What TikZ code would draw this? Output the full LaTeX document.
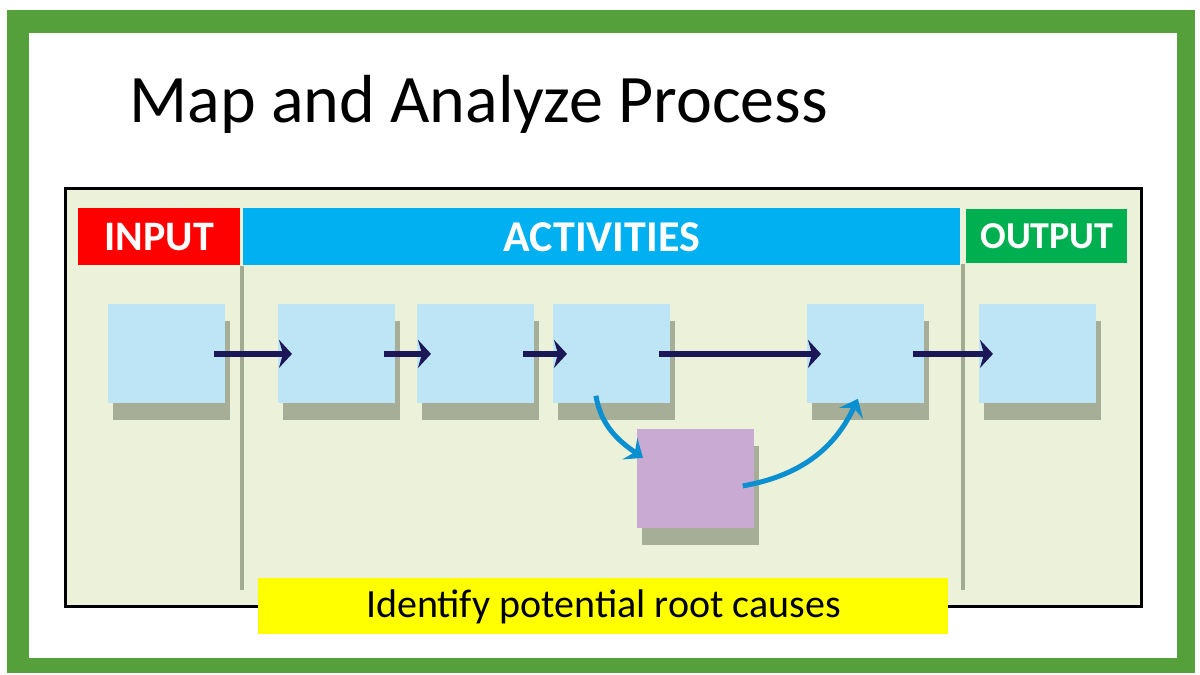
\documentclass[tikz,border=0pt]{standalone}
\usepackage{fontspec}
\setmainfont{Carlito}
\usetikzlibrary{positioning,arrows.meta,shadows}
\definecolor{framegreen}{HTML}{56A03B}
\definecolor{panelfill}{HTML}{EBF2D9}
\definecolor{boxblue}{HTML}{BEE5F6}
\definecolor{boxshadow}{HTML}{A6AE97}
\definecolor{rootpurple}{HTML}{C8AAD2}
\definecolor{flownavy}{HTML}{1C1858}
\definecolor{loopblue}{HTML}{0A8FD0}
\definecolor{sepgray}{HTML}{A3AA92}
\definecolor{inred}{HTML}{FF0000}
\definecolor{actblue}{HTML}{00B0F0}
\definecolor{outgreen}{HTML}{00B050}
\definecolor{notebar}{HTML}{FFFF00}

\begin{document}
\begin{tikzpicture}[x=0.5pt,y=-0.5pt,
  procbox/.style={fill=#1, minimum width=58.5pt, minimum height=49.5pt, inner sep=0pt, anchor=north west,
    drop shadow={shadow xshift=2.5pt, shadow yshift=-8.5pt, fill=boxshadow, opacity=1}},
  procbox/.default=boxblue,
  headbar/.style={fill=#1, text=white, font=\fontsize{21}{24}\selectfont\bfseries, inner sep=0pt, anchor=north west, minimum height=28.5pt},
  flowarrow/.style={draw=flownavy, line width=3.2pt, -{Stealth[length=6.5pt, width=14pt, inset=2pt]}},
  looparrow/.style={draw=loopblue, line width=2.5pt, -{Stealth[length=8pt, width=13pt, inset=3pt]}},
  sepline/.style={draw=sepgray, line width=2pt}]
\useasboundingbox (0,0) rectangle (1200,675);
% slide frame
\fill[framegreen] (7,10) rectangle (1195,673);
\fill[white] (29,33) rectangle (1177,658);
\node[anchor=base west, font=\fontsize{34}{40}\selectfont, inner sep=0pt] (title) at (129,122) {Map and Analyze Process};
% panel
\draw[fill=panelfill, line width=1.5pt] (65.5,188.5) rectangle (1141.5,606.5);
\node[headbar=inred, minimum width=81pt] (input) at (78,208) {INPUT};
\node[headbar=actblue, minimum width=358.5pt, font=\fontsize{22}{24}\selectfont\bfseries] (activities) at (243,208) {ACTIVITIES};
\node[headbar=outgreen, minimum width=80.5pt, minimum height=27pt, font=\fontsize{19}{22}\selectfont\bfseries] (output) at (966,209) {OUTPUT};
\draw[sepline] (242,266) -- (242,590);
\draw[sepline] (963,264) -- (963,590);
% process steps
\foreach \n/\x in {b1/108,b2/278,b3/417,b4/553,b5/807,b6/979} {
  \node[procbox] (\n) at (\x,304) {};
}
\node[procbox=rootpurple] (cause) at (637,429) {};
\foreach \a/\b in {b1/b2,b2/b3,b3/b4,b4/b5,b5/b6} {
  \draw[flowarrow] ([xshift=-6pt]\a.east) -- ([xshift=7pt]\b.west);
}
\draw[looparrow] ([xshift=-8pt,yshift=4pt]b4.south) to[out=-80, in=145] ([xshift=3pt,yshift=10.5pt]cause.west);
\draw[looparrow] ([xshift=-6pt,yshift=-3.5pt]cause.east) to[out=10, in=-115] ([xshift=-4pt,yshift=2.5pt]b5.south);
% note
\node[fill=notebar, minimum width=345pt, minimum height=28pt, inner sep=0pt, anchor=north west, font=\fontsize{20}{24}\selectfont] (note) at (258,578) {Identify potential root causes};
\end{tikzpicture}
\end{document}
